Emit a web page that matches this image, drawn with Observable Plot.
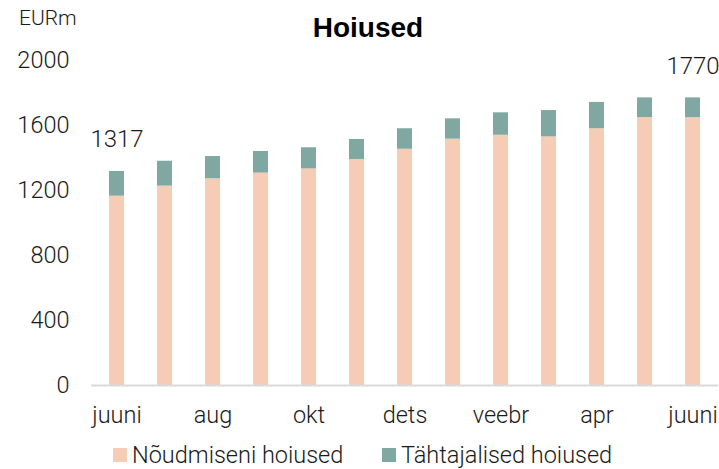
<!DOCTYPE html>
<html>
<head>
<meta charset="utf-8">
<script src="https://cdn.jsdelivr.net/npm/d3@7"></script>
<script src="https://cdn.jsdelivr.net/npm/@observablehq/plot@0.6"></script>
<style>
  html, body { margin: 0; padding: 0; background: #fff; }
  #wrap { position: relative; width: 719px; height: 469px; font-family: Roboto, "Liberation Sans", sans-serif; color: #1a1a1a; }
  #wrap svg { position: absolute; left: 0; top: 0; }
  .title { position: absolute; left: 0; width: 736px; top: 12px; text-align: center; font-family: "Liberation Sans", Arial, sans-serif; font-weight: bold; font-size: 28px; color: #000; }
  .unit { position: absolute; left: 19px; top: 6px; font-size: 21px; font-weight: 300; }
  .legend { position: absolute; top: 441px; left: 0; font-size: 23.5px; font-weight: 300; }
  .item { position: absolute; white-space: nowrap; display: flex; align-items: center; }
  .sw { display: inline-block; width: 14px; height: 14px; margin-right: 5px; }
</style>
</head>
<body>
<div id="wrap">
  <div class="unit">EURm</div>
  <div class="title">Hoiused</div>
</div>
<script>
const months = ["juuni","juuli","aug","sept","okt","nov","dets","jaan","veebr","märts","apr","mai","juuni"];
const demand = [1165, 1227, 1272, 1307, 1333, 1391, 1454, 1516, 1540, 1530, 1580, 1649, 1648];
const term   = [152, 153, 137, 133, 130, 123, 126, 125, 138, 162, 162, 121, 122];
const seriesNames = ["Nõudmiseni hoiused", "Tähtajalised hoiused"];
const colors = ["#F5CCB4", "#7FA8A2"];
const yTicks = [0, 400, 800, 1200, 1600, 2000];
const xTickIdx = [0, 2, 4, 6, 8, 10, 12];
const labelIdx = [0, 12];

const rows = [];
months.forEach((m, i) => {
  rows.push({i, series: seriesNames[0], value: demand[i]});
  rows.push({i, series: seriesNames[1], value: term[i]});
});
const totals = months.map((m, i) => ({i, total: demand[i] + term[i]}));
const labels = totals.filter(d => labelIdx.includes(d.i));

const plot = Plot.plot({
  width: 719,
  height: 469,
  marginLeft: 91,
  marginRight: 1,
  marginTop: 60,
  marginBottom: 84,
  style: {fontFamily: "Roboto, 'Liberation Sans', sans-serif", fontSize: "23.5px", fontWeight: 300, color: "#1a1a1a", background: "transparent"},
  x: {type: "band", domain: d3.range(months.length), paddingInner: 0.68, paddingOuter: 0.34, axis: null},
  y: {domain: [0, 2000], axis: null},
  color: {domain: seriesNames, range: colors},
  marks: [
    Plot.barY(rows, {x: "i", y: "value", fill: "series", order: seriesNames}),
    Plot.ruleY([0], {stroke: "#D9D9D9", strokeWidth: 2}),
    Plot.axisY({ticks: yTicks, tickSize: 0, tickPadding: 22, tickFormat: d => String(d), label: null, fontSize: 23.5}),
    Plot.axisX({ticks: xTickIdx, tickSize: 0, tickPadding: 21, tickFormat: i => months[i], label: null, fontSize: 23.5}),
    Plot.text(labels, {x: "i", y: "total", text: d => String(d.total), dy: -32, fontSize: 24, fill: "#1a1a1a"})
  ]
});
const wrap = document.getElementById("wrap");
wrap.insertBefore(plot, wrap.firstChild);

const legend = document.createElement("div");
legend.className = "legend";
const lx = [113, 382];
seriesNames.forEach((s, k) => {
  const it = document.createElement("div");
  it.className = "item";
  it.style.left = lx[k] + "px";
  const sw = document.createElement("span");
  sw.className = "sw";
  sw.style.background = colors[k];
  it.appendChild(sw);
  it.appendChild(document.createTextNode(s));
  legend.appendChild(it);
});
wrap.appendChild(legend);
</script>
</body>
</html>
